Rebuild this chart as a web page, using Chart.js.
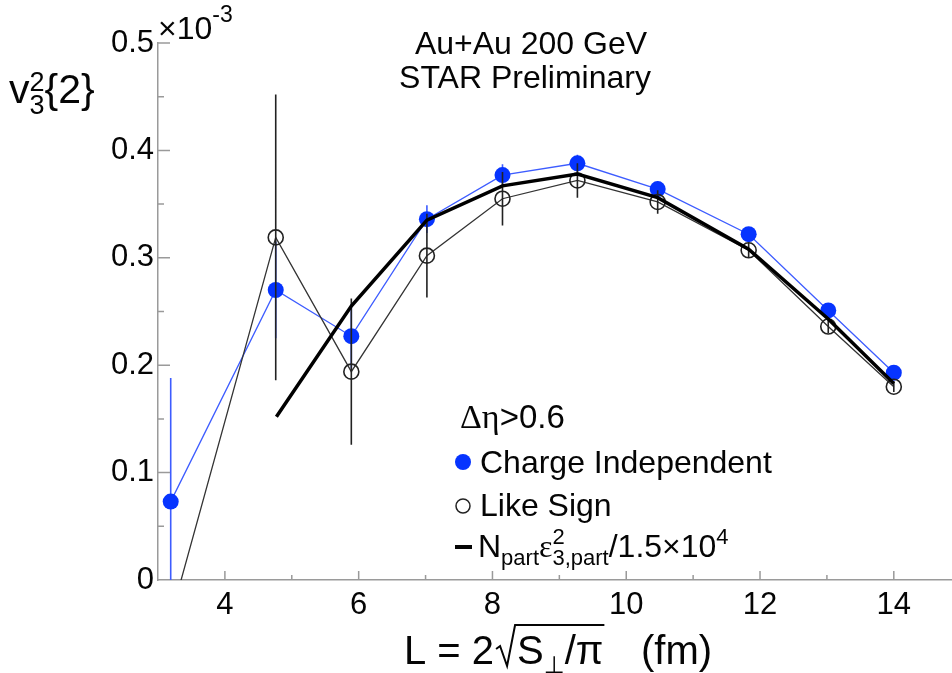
<!DOCTYPE html>
<html>
<head>
<meta charset="utf-8">
<script src="https://cdn.jsdelivr.net/npm/chart.js@4.4.1/dist/chart.umd.min.js"></script>
<style>
  html, body { margin: 0; padding: 0; background: #fff; overflow: hidden; }
  #wrap { position: relative; width: 952px; height: 673px; }
</style>
</head>
<body>
<div id="wrap"><canvas id="v3Chart" width="952" height="673"></canvas></div>
<script>
'use strict';

// L = 2*sqrt(S/pi) (fm), one entry per centrality bin
var lValues = [3.19, 4.76, 5.89, 7.02, 8.15, 9.27, 10.47, 11.83, 13.02, 14.0];
// v3^2{2} in units of 1e-3
var chargeIndep    = [0.073, 0.270, 0.227, 0.336, 0.377, 0.388, 0.364, 0.322, 0.251, 0.193];
var chargeIndepErr = [0.115, 0.045, 0.030, 0.013, 0.010, 0.008, 0.007, 0.006, 0.005, 0.004];
var likeSign       = [-0.035, 0.319, 0.194, 0.302, 0.355, 0.372, 0.352, 0.307, 0.236, 0.180];
var likeSignErr    = [0.030, 0.133, 0.068, 0.039, 0.025, 0.016, 0.011, 0.007, 0.006, 0.005];
// Npart * eps3^2 / 1.5e4
var glauberL    = [4.77, 5.89, 7.02, 8.15, 9.27, 10.47, 11.83, 13.02, 14.0];
var glauberVals = [0.152, 0.255, 0.335, 0.367, 0.378, 0.356, 0.308, 0.243, 0.183];

var xTickLabels = [4, 6, 8, 10, 12, 14];
var yTickValues = [0, 0.1, 0.2, 0.3, 0.4, 0.5];
var yTickLabels = ['0', '0.1', '0.2', '0.3', '0.4', '0.5'];

var FONT = '"Liberation Sans", Arial, Helvetica, sans-serif';
var SERIF = '"Liberation Serif", "DejaVu Serif", serif';
var BLUE = '#0634ff';
var BLUE_LINE = '#3d5cff';
var INK = '#050505';

function toPoints(xs, ys) {
    return xs.map(function(x, i) { return {x: x, y: ys[i]}; });
}

// vertical error bars as line pieces separated by gaps
function errorSegments(xs, ys, errs) {
    var pts = [];
    xs.forEach(function(x, i) {
        pts.push({x: x, y: ys[i] - errs[i]});
        pts.push({x: x, y: ys[i] + errs[i]});
        pts.push({x: x, y: null});
    });
    return pts;
}

// draws a list of text pieces left to right; keep:true stacks the next piece on the same x
function drawRich(ctx, x, y, parts) {
    var pending = 0;
    parts.forEach(function(p) {
        ctx.font = (p.style || '') + ' ' + p.size + 'px ' + (p.family || FONT);
        ctx.fillText(p.t, x, y + (p.dy || 0));
        var w = ctx.measureText(p.t).width;
        if (p.keep) {
            pending = w;
        } else {
            x += Math.max(w, pending);
            pending = 0;
        }
    });
    return x;
}

function richWidth(ctx, parts) {
    var w = 0, pending = 0;
    parts.forEach(function(p) {
        ctx.font = (p.style || '') + ' ' + p.size + 'px ' + (p.family || FONT);
        var pw = ctx.measureText(p.t).width;
        if (p.keep) { pending = pw; } else { w += Math.max(pw, pending); pending = 0; }
    });
    return w;
}

var innerTicks = {
    id: 'innerTicks',
    afterDraw: function(chart) {
        var ctx = chart.ctx, area = chart.chartArea;
        var xs = chart.scales.x, ys = chart.scales.y;
        ctx.save();
        ctx.strokeStyle = '#9a9a9a';
        ctx.lineWidth = 1.5;
        ctx.beginPath();
        xs.ticks.forEach(function(t) {
            var px = xs.getPixelForValue(t.value);
            if (px < area.left + 2) return;
            var len = xTickLabels.indexOf(t.value) >= 0 ? 9 : 5;
            ctx.moveTo(px, area.bottom);
            ctx.lineTo(px, area.bottom - len);
        });
        ys.ticks.forEach(function(t) {
            var py = ys.getPixelForValue(t.value);
            if (py > area.bottom - 2) return;
            var major = yTickValues.some(function(v) { return Math.abs(v - t.value) < 1e-6; });
            ctx.moveTo(area.left, py);
            ctx.lineTo(area.left + (major ? 12 : 6), py);
        });
        ctx.stroke();
        ctx.restore();
    }
};

var starText = {
    id: 'starText',
    afterDraw: function(chart) {
        var ctx = chart.ctx;
        ctx.save();
        ctx.fillStyle = INK;
        ctx.textAlign = 'left';
        ctx.textBaseline = 'alphabetic';

        // exponent on the y axis
        drawRich(ctx, 158, 39, [
            {t: '\u00d710', size: 32},
            {t: '-3', size: 23, dy: -17}
        ]);

        // y axis title v3^2{2}
        drawRich(ctx, 9, 103, [
            {t: 'v', size: 41},
            {t: '2', size: 27, dy: -12, keep: true},
            {t: '3', size: 27, dy: 11},
            {t: '{2}', size: 41}
        ]);

        // header
        var l1 = [{t: 'Au+Au 200 GeV', size: 32}];
        var l2 = [{t: 'STAR Preliminary', size: 32}];
        drawRich(ctx, 531 - richWidth(ctx, l1) / 2, 54, l1);
        drawRich(ctx, 525 - richWidth(ctx, l2) / 2, 88, l2);

        // legend block
        drawRich(ctx, 460, 428, [
            {t: '\u0394\u03b7', size: 34, family: SERIF},
            {t: '>0.6', size: 33}
        ]);
        ctx.fillStyle = BLUE;
        ctx.beginPath();
        ctx.arc(463, 462, 8, 0, Math.PI * 2);
        ctx.fill();
        ctx.fillStyle = INK;
        drawRich(ctx, 480, 473, [{t: 'Charge Independent', size: 32}]);

        ctx.strokeStyle = '#222';
        ctx.lineWidth = 1.5;
        ctx.beginPath();
        ctx.arc(463, 506, 7, 0, Math.PI * 2);
        ctx.stroke();
        drawRich(ctx, 480, 516, [{t: 'Like Sign', size: 32}]);

        ctx.fillRect(455, 545, 17, 4);
        drawRich(ctx, 478, 557, [
            {t: 'N', size: 32},
            {t: 'part', size: 22, dy: 8},
            {t: '\u03b5', size: 32, family: SERIF},
            {t: '2', size: 22, dy: -13, keep: true},
            {t: '3,part', size: 22, dy: 8},
            {t: '/1.5\u00d710', size: 32},
            {t: '4', size: 22, dy: -13}
        ]);

        // x axis title L = 2 sqrt(S_perp / pi)  (fm)
        var base = 664;
        var x = drawRich(ctx, 404, base, [{t: 'L = 2', size: 40}]);
        var x0 = x + 2;
        var x1 = drawRich(ctx, x0 + 21, base, [
            {t: 'S', size: 40},
            {t: '\u22a5', size: 24, dy: 9, family: '"DejaVu Sans", sans-serif'},
            {t: '/\u03c0', size: 40}
        ]);
        ctx.strokeStyle = INK;
        ctx.lineWidth = 2;
        ctx.beginPath();
        ctx.moveTo(x0, base - 15);
        ctx.lineTo(x0 + 4, base - 18);
        ctx.lineTo(x0 + 11, base + 2);
        ctx.lineTo(x0 + 19, base - 39);
        ctx.lineTo(x1 + 1, base - 39);
        ctx.stroke();
        drawRich(ctx, 641, base, [{t: '(fm)', size: 40}]);

        ctx.restore();
    }
};

var ctx = document.getElementById('v3Chart');
var v3Chart = new Chart(ctx, {
    type: 'scatter',
    data: {
        datasets: [
            {
                label: 'Npart eps3^2/1.5e4',
                data: toPoints(glauberL, glauberVals),
                showLine: true,
                borderColor: '#000',
                borderWidth: 3.5,
                pointRadius: 0,
                order: 0
            },
            {
                label: 'Like Sign errors',
                data: errorSegments(lValues, likeSign, likeSignErr),
                showLine: true,
                spanGaps: false,
                borderColor: '#222',
                borderWidth: 1.6,
                pointRadius: 0,
                order: 1
            },
            {
                label: 'Like Sign',
                data: toPoints(lValues, likeSign),
                showLine: true,
                borderColor: '#333',
                borderWidth: 1.3,
                pointRadius: 7.5,
                pointBorderWidth: 1.6,
                pointBorderColor: '#222',
                pointBackgroundColor: 'rgba(255,255,255,0)',
                order: 2
            },
            {
                label: 'Charge Independent',
                data: toPoints(lValues, chargeIndep),
                showLine: true,
                borderColor: BLUE_LINE,
                borderWidth: 1.3,
                pointRadius: 8,
                pointBorderWidth: 0,
                pointBackgroundColor: BLUE,
                order: 3
            },
            {
                label: 'Charge Independent errors',
                data: errorSegments(lValues, chargeIndep, chargeIndepErr),
                showLine: true,
                spanGaps: false,
                borderColor: BLUE_LINE,
                borderWidth: 1.6,
                pointRadius: 0,
                order: 4
            }
        ]
    },
    options: {
        responsive: false,
        animation: false,
        devicePixelRatio: 1,
        layout: { autoPadding: false, padding: { top: 43, right: 0, bottom: 0, left: 0 } },
        plugins: {
            legend: { display: false },
            tooltip: { enabled: false }
        },
        scales: {
            x: {
                type: 'linear',
                min: 3,
                max: 14.87,
                grid: { display: false, drawTicks: false },
                border: { color: '#9a9a9a', width: 1.5 },
                ticks: {
                    stepSize: 1,
                    includeBounds: false,
                    autoSkip: false,
                    maxRotation: 0,
                    padding: 7,
                    color: INK,
                    font: { family: FONT, size: 31 },
                    callback: function(v) {
                        return xTickLabels.indexOf(v) >= 0 ? String(v) : '';
                    }
                },
                afterFit: function(scale) { scale.height = 93; }
            },
            y: {
                type: 'linear',
                min: 0,
                max: 0.5,
                grid: { display: false, drawTicks: false },
                border: { color: '#9a9a9a', width: 1.5 },
                ticks: {
                    stepSize: 0.05,
                    autoSkip: false,
                    padding: 4,
                    color: INK,
                    font: { family: FONT, size: 31 },
                    callback: function(v) {
                        for (var i = 0; i < yTickValues.length; i++) {
                            if (Math.abs(yTickValues[i] - v) < 1e-6) return yTickLabels[i];
                        }
                        return '';
                    }
                },
                afterFit: function(scale) { scale.width = 158; }
            }
        }
    },
    plugins: [innerTicks, starText]
});
</script>
</body>
</html>
